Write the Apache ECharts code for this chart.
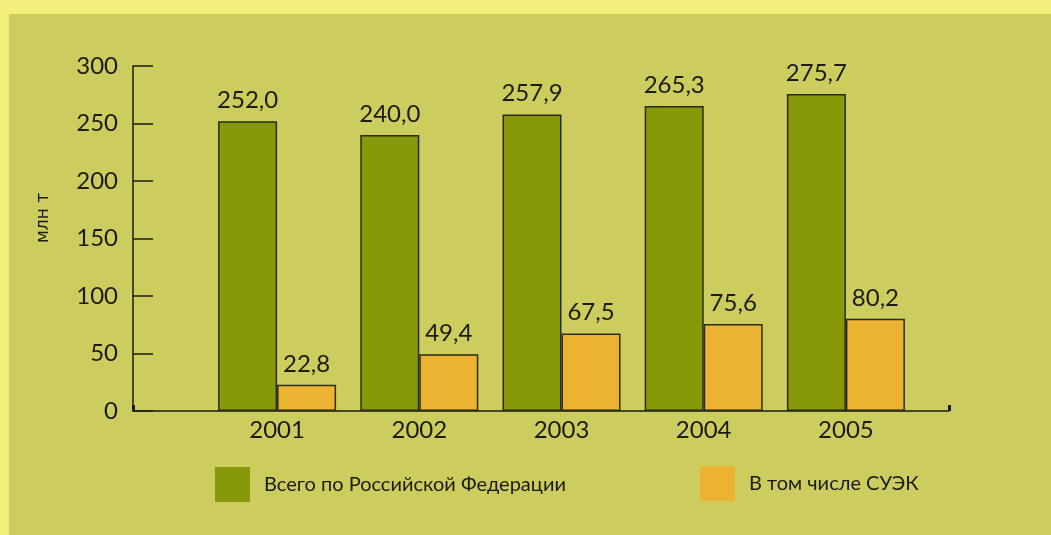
<!DOCTYPE html>
<html><head><meta charset="utf-8">
<script src="https://cdn.jsdelivr.net/npm/echarts@6/dist/echarts.min.js"></script>
<style>
html,body{margin:0;padding:0;background:#F2F07B;width:1051px;height:535px;overflow:hidden}
#c{position:absolute;left:9px;top:14px;width:1042px;height:521px}
</style></head>
<body><div id="c"></div>
<script>
const categories = ['2001', '2002', '2003', '2004', '2005'];
const totalRF = [252.0, 240.0, 257.9, 265.3, 275.7];
const suek = [22.8, 49.4, 67.5, 75.6, 80.2];
const seriesNames = ['Всего по Российской Федерации', 'В том числе СУЭК'];
const yMin = 0, yMax = 300, yStep = 50;
const yTitle = 'млн т';

const FONT = 'Lato';
const TXT = '#1b1b14';
const fmt = p => p.value.toFixed(1).replace('.', ',');

const chart = echarts.init(document.getElementById('c'), null, {renderer: 'canvas'});
chart.setOption({
  backgroundColor: '#CDCC5F',
  animation: false,
  textStyle: {fontFamily: FONT},
  grid: [
    {left: 197, right: 134, top: 52, height: 345},
    {left: 124, right: 102, top: 52, height: 345}
  ],
  xAxis: [
    {type: 'category', gridIndex: 0, data: categories,
     axisLine: {show: false}, axisTick: {show: false},
     axisLabel: {fontSize: 24, color: TXT, margin: 7, fontFamily: FONT}},
    {type: 'value', gridIndex: 1, min: 0, max: 1, interval: 1,
     axisLine: {show: true, lineStyle: {color: TXT, width: 1.5}},
     axisTick: {show: true, inside: true, length: 6, lineStyle: {color: TXT, width: 3}},
     axisLabel: {show: false}, splitLine: {show: false}}
  ],
  yAxis: [
    {type: 'value', gridIndex: 0, min: yMin, max: yMax, interval: yStep, show: false},
    {type: 'value', gridIndex: 1, min: yMin, max: yMax, interval: yStep,
     axisLine: {show: true, lineStyle: {color: TXT, width: 1.5}},
     axisTick: {show: true, inside: true, length: 20, lineStyle: {color: TXT, width: 1.5}},
     axisLabel: {fontSize: 24, color: TXT, margin: 15, fontFamily: FONT},
     splitLine: {show: false}}
  ],
  legend: [
    {data: [seriesNames[0]], left: 201, top: 448, itemWidth: 35, itemHeight: 35,
     itemGap: 0, icon: 'rect', textStyle: {fontSize: 20, color: TXT, fontFamily: FONT, padding: [0, 0, 0, 9]},
     itemStyle: {borderWidth: 0}},
    {data: [seriesNames[1]], left: 686, top: 447, itemWidth: 35, itemHeight: 35,
     itemGap: 0, icon: 'rect', textStyle: {fontSize: 20, color: TXT, fontFamily: FONT, padding: [0, 0, 0, 9]},
     itemStyle: {borderWidth: 0}}
  ],
  graphic: [
    {type: 'text', x: 35, y: 204, rotation: Math.PI / 2,
     style: {text: yTitle, font: '17px "DejaVu Sans"', fill: TXT, align: 'center', verticalAlign: 'middle'}}
  ],
  series: [
    {name: seriesNames[0], type: 'bar', xAxisIndex: 0, yAxisIndex: 0, data: totalRF,
     barWidth: 59, barGap: '0%',
     itemStyle: {color: '#879809', borderColor: '#2b2b1a', borderWidth: 1.5},
     label: {show: true, position: 'top', distance: 9, fontSize: 24, color: TXT, fontFamily: FONT, formatter: fmt}},
    {name: seriesNames[1], type: 'bar', xAxisIndex: 0, yAxisIndex: 0, data: suek,
     barWidth: 59, barGap: '0%',
     itemStyle: {color: '#ECB332', borderColor: '#2b2b1a', borderWidth: 1.5},
     label: {show: true, position: 'top', distance: 9, fontSize: 24, color: TXT, fontFamily: FONT, formatter: fmt}}
  ]
});
</script></body></html>
